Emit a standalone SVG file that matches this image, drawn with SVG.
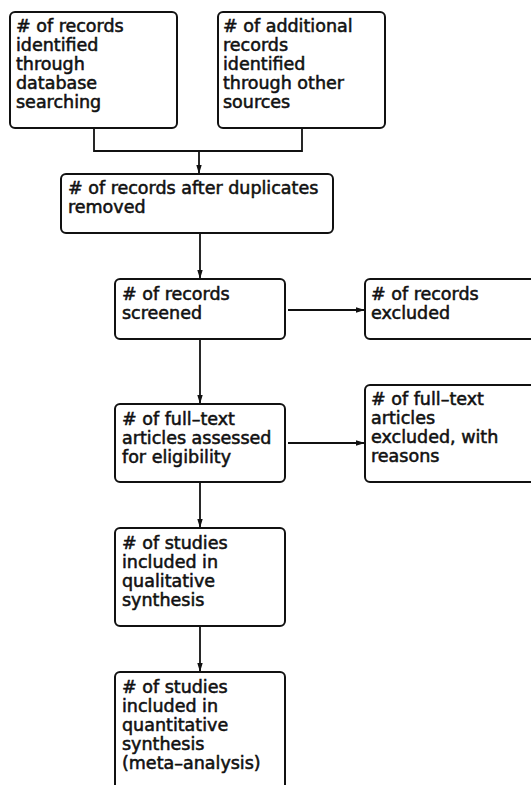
<svg xmlns="http://www.w3.org/2000/svg" width="531" height="785" viewBox="0 0 531 785">
<defs>
<marker id="ah" viewBox="0 0 10 10" refX="10" refY="5" markerWidth="9" markerHeight="9" markerUnits="userSpaceOnUse" orient="auto">
<path d="M0,2 L10,5 L0,8 z" fill="#111"/>
</marker>
<style>
.box{fill:#fff;stroke:#111;stroke-width:2}
.t{font-family:"DejaVu Sans",sans-serif;font-size:17.5px;fill:#111;stroke:#111;stroke-width:0.55px}
.c{fill:none;stroke:#111;stroke-width:1.8}
</style>
</defs>
<rect width="531" height="785" fill="#fff"/>
<g id="connectors">
<path class="c" d="M94,128 V151 H302 V128"/>
<path class="c" d="M199,151 V174" marker-end="url(#ah)"/>
<path class="c" d="M200,233 V279" marker-end="url(#ah)"/>
<path class="c" d="M288,310 H365" marker-end="url(#ah)"/>
<path class="c" d="M200,339 V404" marker-end="url(#ah)"/>
<path class="c" d="M288,443 H365" marker-end="url(#ah)"/>
<path class="c" d="M200,482 V528" marker-end="url(#ah)"/>
<path class="c" d="M200,626 V672" marker-end="url(#ah)"/>
</g>
<g id="n1">
<rect class="box" x="10" y="12" width="167" height="116" rx="5"/>
<text class="t"><tspan x="16" y="32"># of records</tspan><tspan x="16" y="51">identified</tspan><tspan x="16" y="70">through</tspan><tspan x="16" y="89">database</tspan><tspan x="16" y="108">searching</tspan></text>
</g>
<g id="n2">
<rect class="box" x="218" y="12" width="167" height="116" rx="5"/>
<text class="t"><tspan x="223" y="32"># of additional</tspan><tspan x="223" y="51">records</tspan><tspan x="223" y="70">identified</tspan><tspan x="223" y="89">through other</tspan><tspan x="223" y="108">sources</tspan></text>
</g>
<g id="n3">
<rect class="box" x="61" y="174" width="272" height="59" rx="5"/>
<text class="t"><tspan x="68" y="194"># of records after duplicates</tspan><tspan x="68" y="213">removed</tspan></text>
</g>
<g id="n4">
<rect class="box" x="115" y="279" width="170" height="60" rx="5"/>
<text class="t"><tspan x="122" y="300"># of records</tspan><tspan x="122" y="319">screened</tspan></text>
</g>
<g id="n5">
<rect class="box" x="365" y="279" width="175" height="60" rx="5"/>
<text class="t"><tspan x="371" y="300"># of records</tspan><tspan x="371" y="319">excluded</tspan></text>
</g>
<g id="n6">
<rect class="box" x="115" y="404" width="170" height="78" rx="5"/>
<text class="t"><tspan x="122" y="425"># of full–text</tspan><tspan x="122" y="444">articles assessed</tspan><tspan x="122" y="463">for eligibility</tspan></text>
</g>
<g id="n7">
<rect class="box" x="365" y="385" width="175" height="97" rx="5"/>
<text class="t"><tspan x="371" y="405"># of full–text</tspan><tspan x="371" y="424">articles</tspan><tspan x="371" y="443">excluded, with</tspan><tspan x="371" y="462">reasons</tspan></text>
</g>
<g id="n8">
<rect class="box" x="115" y="528" width="170" height="98" rx="5"/>
<text class="t"><tspan x="122" y="549"># of studies</tspan><tspan x="122" y="568">included in</tspan><tspan x="122" y="587">qualitative</tspan><tspan x="122" y="606">synthesis</tspan></text>
</g>
<g id="n9">
<rect class="box" x="115" y="672" width="170" height="130" rx="5"/>
<text class="t"><tspan x="122" y="693"># of studies</tspan><tspan x="122" y="712">included in</tspan><tspan x="122" y="731">quantitative</tspan><tspan x="122" y="750">synthesis</tspan><tspan x="122" y="769">(meta–analysis)</tspan></text>
</g>
</svg>
